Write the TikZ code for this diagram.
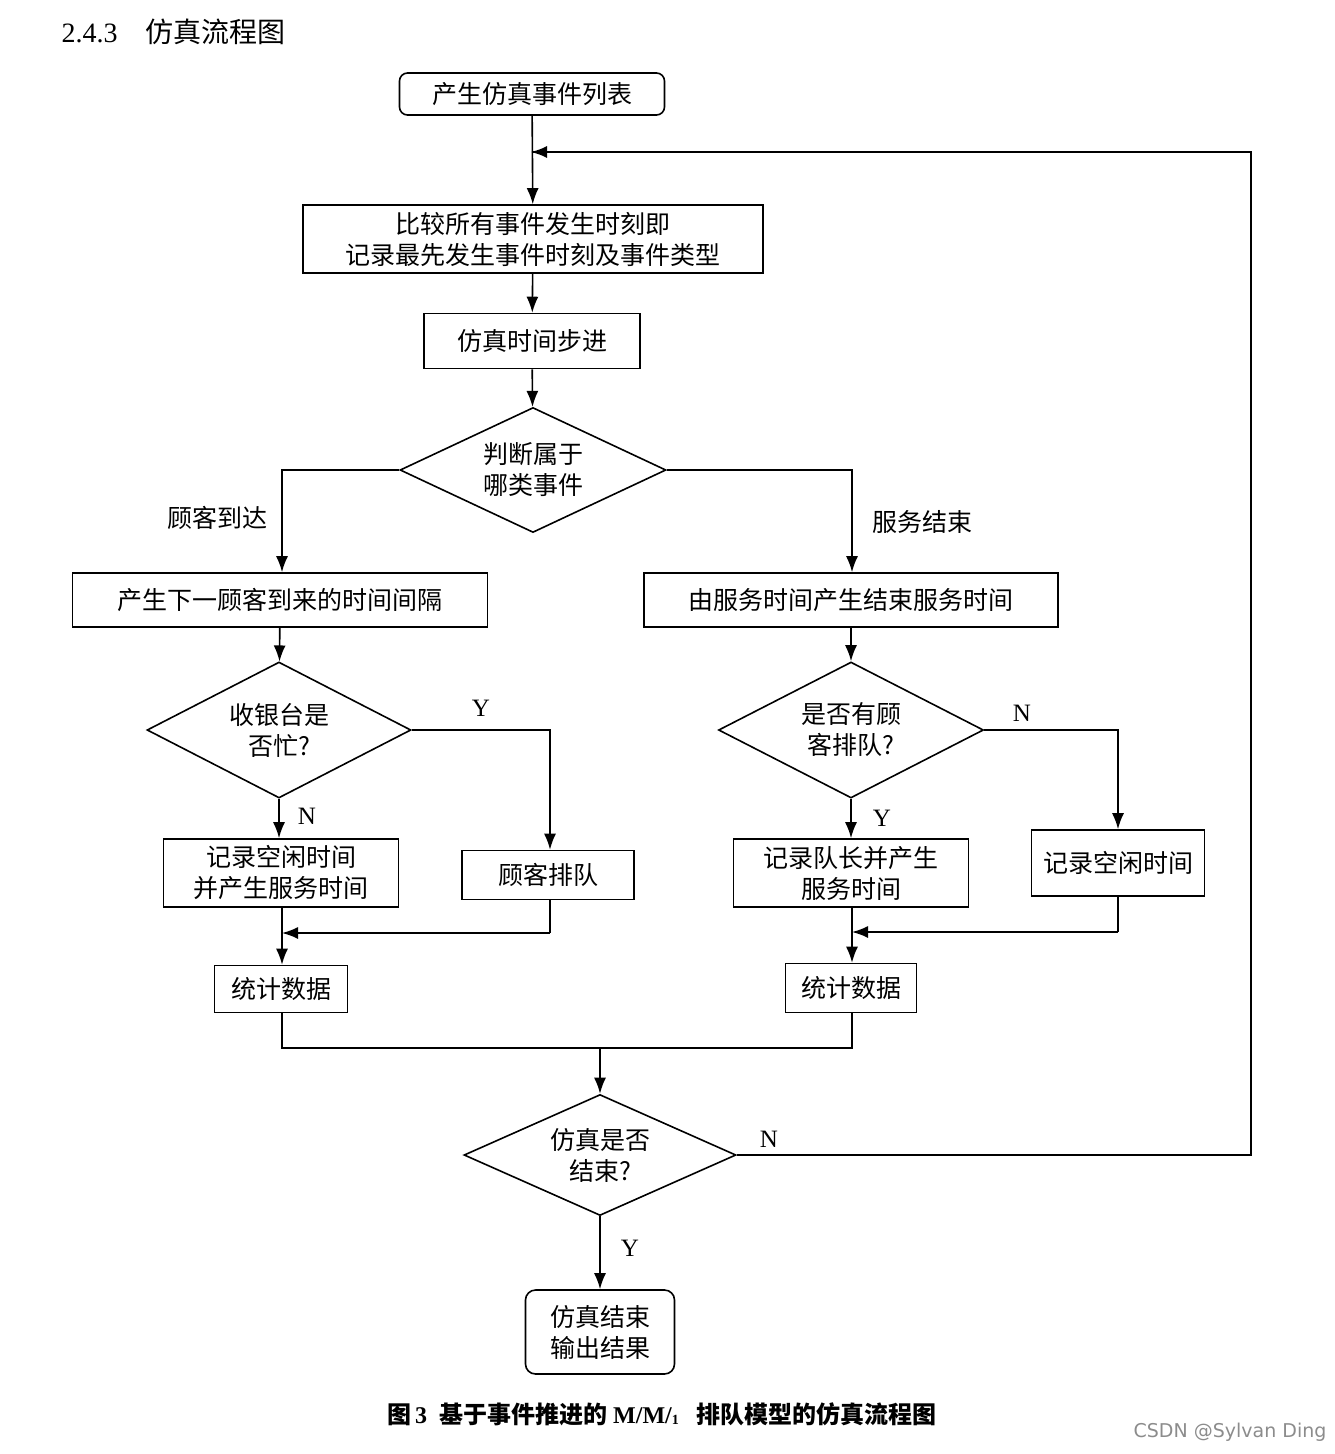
\documentclass[tikz,border=0pt]{standalone}
\usepackage{fontspec}
\setmainfont{Liberation Serif}
\newfontfamily\cjk{Noto Sans CJK SC}
\usetikzlibrary{shapes.geometric,arrows.meta}
\begin{document}
\begin{tikzpicture}[x=1pt,y=-1pt,
  every node/.style={font=\cjk\fontsize{25}{31}\selectfont, align=center},
  box/.style={draw, line width=1.6pt, inner sep=0pt},
  dia/.style={draw, diamond, line width=1.6pt, inner sep=0pt},
  lab/.style={font=\fontsize{25}{30}\selectfont},
  arr/.style={line width=1.6pt, -{Latex[length=16pt,width=12pt]}},
  ln/.style={line width=1.6pt}]
\useasboundingbox (0,0) rectangle (1334,1454);
\node[anchor=west, font=\fontsize{28}{32}\selectfont] (title) at (58,32) {2.4.3\quad{\cjk 仿真流程图}};
\node[box, rounded corners=8pt, minimum width=265pt, minimum height=42pt] (start) at (532,94) {产生仿真事件列表};
\node[box, minimum width=460pt, minimum height=68pt] (cmp) at (533,239) {比较所有事件发生时刻即\\记录最先发生事件时刻及事件类型};
\node[box, minimum width=216pt, minimum height=55pt] (step) at (532,341) {仿真时间步进};
\node[dia, aspect=2.13, minimum width=266pt, minimum height=125pt] (d1) at (533,470) {判断属于\\哪类事件};
\node[box, minimum width=415pt, minimum height=54pt] (b4) at (280,600) {产生下一顾客到来的时间间隔};
\node[box, minimum width=414pt, minimum height=54pt] (b5) at (851,600) {由服务时间产生结束服务时间};
\node[dia, aspect=1.94, minimum width=264pt, minimum height=136pt] (d2) at (279,730) {收银台是\\否忙?};
\node[dia, aspect=1.94, minimum width=265pt, minimum height=136pt] (d3) at (851,730) {是否有顾\\客排队?};
\node[box, minimum width=172pt, minimum height=49pt] (b6) at (548,875) {顾客排队};
\node[box, minimum width=235pt, minimum height=68pt] (b7) at (281,873) {记录空闲时间\\并产生服务时间};
\node[box, minimum width=235pt, minimum height=68pt] (b10) at (851,873) {记录队长并产生\\服务时间};
\node[box, minimum width=173pt, minimum height=66pt] (b9) at (1118,863) {记录空闲时间};
\node[box, minimum width=133pt, minimum height=47pt] (b8) at (281,989) {统计数据};
\node[box, minimum width=131pt, minimum height=49pt] (b11) at (851,988) {统计数据};
\node[dia, aspect=2.25, minimum width=272pt, minimum height=121pt] (d4) at (600,1155) {仿真是否\\结束?};
\node[box, rounded corners=10pt, minimum width=149pt, minimum height=84pt] (fin) at (600,1332) {仿真结束\\输出结果};
% labels
\node (l1) at (217,518) {顾客到达};
\node (l2) at (922,522) {服务结束};
\node[lab] (ly1) at (481,708) {Y};
\node[lab] (ln1) at (307,816) {N};
\node[lab] (ln2) at (1022,713) {N};
\node[lab] (ly2) at (882,818) {Y};
\node[lab] (ln3) at (769,1139) {N};
\node[lab] (ly3) at (630,1248) {Y};
\node[font=\bfseries\fontsize{24}{28}\selectfont] (cap) at (662,1414) {{\cjk\bfseries 图}\,3\ \ {\cjk\bfseries 基于事件推进的} M/M/\raisebox{-1pt}{\fontsize{14}{16}\selectfont 1}\ \ \ {\cjk\bfseries 排队模型的仿真流程图}};
\node[font=\fontspec{DejaVu Sans}\fontsize{19}{22}\selectfont, text=black!45] (wm) at (1230,1432) {CSDN @Sylvan Ding};
% coordinates
\coordinate (loopA) at (1251,1155);
\coordinate (loopB) at (1251,152);
\coordinate (loopC) at (532,152);
\coordinate (m1) at (550,933);
\coordinate (m1e) at (282,933);
\coordinate (m2) at (1118,932);
\coordinate (m2e) at (852,932);
\coordinate (bl) at (282,1048);
\coordinate (br) at (852,1048);
\coordinate (bm) at (600,1048);
% connectors
\draw[arr] (start) -- (cmp);
\draw[arr] (cmp) -- (step);
\draw[arr] (step) -- (d1);
\draw[arr] (d1.west) -| (b4.north -| 282,0);
\draw[arr] (d1.east) -| (b5.north -| 852,0);
\draw[arr] (b4) -- (d2);
\draw[arr] (b5) -- (d3);
\draw[arr] (d2.east) -| (b6.north -| 550,0);
\draw[arr] (d2.south) -- (b7.north -| d2.south);
\draw[arr] (d3.east) -| (b9.north);
\draw[arr] (d3.south) -- (b10.north -| d3.south);
\draw[ln] (b6.south -| m1) -- (m1);
\draw[arr] (m1) -- (m1e);
\draw[arr] (b7.south -| 282,0) -- (b8.north -| 282,0);
\draw[ln] (b9.south) -- (m2);
\draw[arr] (m2) -- (m2e);
\draw[arr] (b10.south -| 852,0) -- (b11.north -| 852,0);
\draw[ln] (b8.south -| bl) -- (bl) -- (br) -- (b11.south -| br);
\draw[arr] (bm) -- (d4.north);
\draw[arr] (d4.south) -- (fin.north);
\draw[ln] (d4.east) -- (loopA) -- (loopB) -- (loopC);
\draw[arr] (loopB) -- ([xshift=-1pt]loopC);
\end{tikzpicture}
\end{document}
